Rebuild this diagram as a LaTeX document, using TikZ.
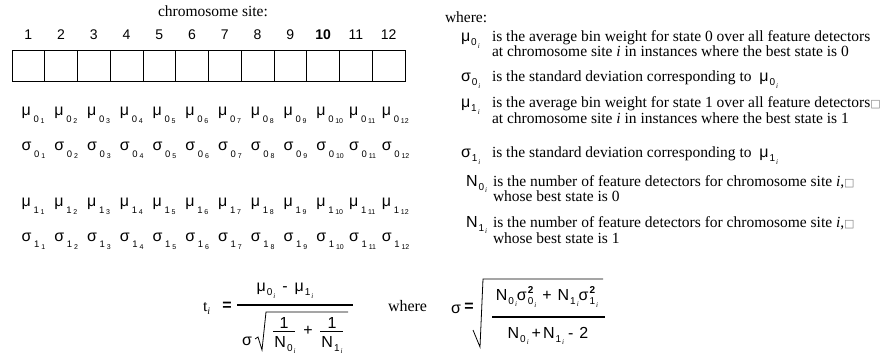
\documentclass[tikz,border=0pt]{standalone}
\usepackage{fontspec}
\setmainfont{Liberation Serif}
\newfontfamily\sansf{Liberation Sans}
\newfontfamily\dvf{DejaVu Sans}
\newcommand\Sz[1]{\fontsize{#1}{#1}\selectfont}
% row symbol: big greek, sub digit, sub-sub number
\newcommand\rowsym[3]{{\sansf\Sz{16}#1}\hspace{2.8pt}\raisebox{-6.5pt}{\sansf\Sz{9.5}#2}\hspace{1.8pt}\raisebox{-8pt}{\sansf\Sz{7}#3}}
% symbol with index i
\newcommand\isym[2]{{\sansf\Sz{16}#1}\hspace{1pt}\raisebox{-4pt}{\sansf\Sz{10}#2}\hspace{1pt}\raisebox{-6.5pt}{\Sz{7}\textit{i}}}
% sigma squared with index
\newcommand\sqsym[1]{{\sansf\Sz{16}σ}\hspace{1pt}\rlap{\raisebox{6.8pt}{\sansf\bfseries\Sz{10}2}}\raisebox{-4.5pt}{\sansf\Sz{10}#1}\hspace{1pt}\raisebox{-7pt}{\Sz{7}\textit{i}}}
\newcommand\boxg{{\dvf\Sz{11}\color{gray}□}}
\begin{document}
\begin{tikzpicture}[x=1pt,y=-1pt,
  tx/.style={inner sep=0,outer sep=0,anchor=base west,font=\Sz{15.5}},
  sx/.style={inner sep=0,outer sep=0,anchor=base west},
  num/.style={inner sep=0,outer sep=0,anchor=base,font=\sansf\Sz{14}},
  cell/.style={draw,line width=1pt,minimum width=32.75pt,minimum height=31pt,inner sep=0,outer sep=0},
  fbar/.style={line width=1.4pt},
  sbar/.style={line width=0.9pt},
  rad/.style={line width=0.8pt,line join=miter}]
\useasboundingbox (0,0) rectangle (880,358);
% header
\node[inner sep=0,outer sep=0,anchor=base,font=\Sz{15.5}] (title) at (213,17) {chromosome site:};
\foreach \k in {1,...,12}{
  \pgfmathsetmacro\cx{12+32.75*(\k-0.5)}
  \node[cell] (b\k) at (\cx,66.5) {};
  \ifnum\k=10
    \node[num] (n\k) at (\cx,40) {\bfseries\k};
  \else
    \node[num] (n\k) at (\cx,40) {\k};
  \fi
  \pgfmathsetmacro\sx{21.5+32.75*(\k-1)}
  \node[sx] (m0\k) at (\sx,116) {\rowsym{μ}{0}{\k}};
  \node[sx] (s0\k) at (\sx,151) {\rowsym{σ}{0}{\k}};
  \node[sx] (m1\k) at (\sx,207) {\rowsym{μ}{1}{\k}};
  \node[sx] (s1\k) at (\sx,241) {\rowsym{σ}{1}{\k}};
}
% right column
\node[tx] (where) at (445,23) {where:};
\node[sx] (dm0) at (461,42) {\isym{μ}{0}};
\node[tx] (dm0a) at (492,42) {is the average bin weight for state 0 over all feature detectors};
\node[tx] (dm0b) at (492,57) {at chromosome site \textit{i} in instances where the best state is 0};
\node[sx] (ds0) at (461,82) {\isym{σ}{0}};
\node[tx] (ds0a) at (492,82) {is the standard deviation corresponding to \ \isym{μ}{0}};
\node[sx] (dm1) at (461,108) {\isym{μ}{1}};
\node[tx] (dm1a) at (492,108) {is the average bin weight for state 1 over all feature detectors\boxg};
\node[tx] (dm1b) at (492,124) {at chromosome site \textit{i} in instances where the best state is 1};
\node[sx] (ds1) at (461,158) {\isym{σ}{1}};
\node[tx] (ds1a) at (492,158) {is the standard deviation corresponding to \ \isym{μ}{1}};
\node[sx] (dn0) at (466,186) {\isym{N}{0}};
\node[tx] (dn0a) at (493,186) {is the number of feature detectors for chromosome site \textit{i},\boxg};
\node[tx] (dn0b) at (493,201) {whose best state is 0};
\node[sx] (dn1) at (466,227) {\isym{N}{1}};
\node[tx] (dn1a) at (493,227) {is the number of feature detectors for chromosome site \textit{i},\boxg};
\node[tx] (dn1b) at (493,243) {whose best state is 1};
% formula 1
\node[sx] (ti) at (203,311) {\Sz{16}t\raisebox{-3pt}{\Sz{10}\textit{i}}};
\node[inner sep=0,font=\sansf\bfseries\Sz{16}] (eq1) at (227,306) {=};
\coordinate (f1l) at (237,305);
\coordinate (f1r) at (353,305);
\draw[fbar] (f1l) -- (f1r);
\node[inner sep=0] (num1) at (285,291) {\isym{μ}{0}\hspace{7pt}{\sansf\Sz{16}-}\hspace{7pt}\isym{μ}{1}};
\node[inner sep=0,font=\sansf\Sz{16}] (sig1) at (247,341) {σ};
\coordinate (r1a) at (255,339);
\coordinate (r1b) at (258,337);
\coordinate (r1c) at (262,350);
\coordinate (r1d) at (266,312);
\coordinate (r1e) at (348,312);
\draw[rad] (r1a) -- (r1b) -- (r1c) -- (r1d) -- (r1e);
\node[inner sep=0,font=\sansf\Sz{16}] (one1) at (284,323) {1};
\draw[sbar] (273,331) -- (295,331);
\node[inner sep=0] (nn0) at (285,345) {\isym{N}{0}};
\node[inner sep=0,font=\sansf\Sz{16}] (plus1) at (308,331) {+};
\node[inner sep=0,font=\sansf\Sz{16}] (one2) at (332,323) {1};
\draw[sbar] (320,331) -- (343,331);
\node[inner sep=0] (nn1) at (332,345) {\isym{N}{1}};
% formula 2
\node[inner sep=0,outer sep=0,anchor=base west,font=\Sz{16}] (wh2) at (388,311) {where};
\node[inner sep=0,font=\sansf\Sz{16}] (sig2) at (456,309) {σ};
\node[inner sep=0,font=\sansf\bfseries\Sz{16}] (eq2) at (469,307) {=};
\coordinate (r2a) at (473,330);
\coordinate (r2b) at (480,347);
\coordinate (r2c) at (483,279);
\coordinate (r2d) at (603,279);
\draw[rad] (r2a) -- (r2b) -- (r2c) -- (r2d);
\draw[fbar] (492,317) -- (605,317);
\node[inner sep=0] (num2) at (547,297) {\isym{N}{0}\sqsym{0}\hspace{6pt}{\sansf\Sz{16}+}\hspace{6pt}\isym{N}{1}\sqsym{1}};
\node[inner sep=0] (den2) at (548,336) {\isym{N}{0}\hspace{3pt}{\sansf\Sz{16}+}\hspace{2pt}\isym{N}{1}\hspace{4pt}{\sansf\Sz{16}-}\hspace{6pt}{\sansf\Sz{16}2}};
\end{tikzpicture}
\end{document}
